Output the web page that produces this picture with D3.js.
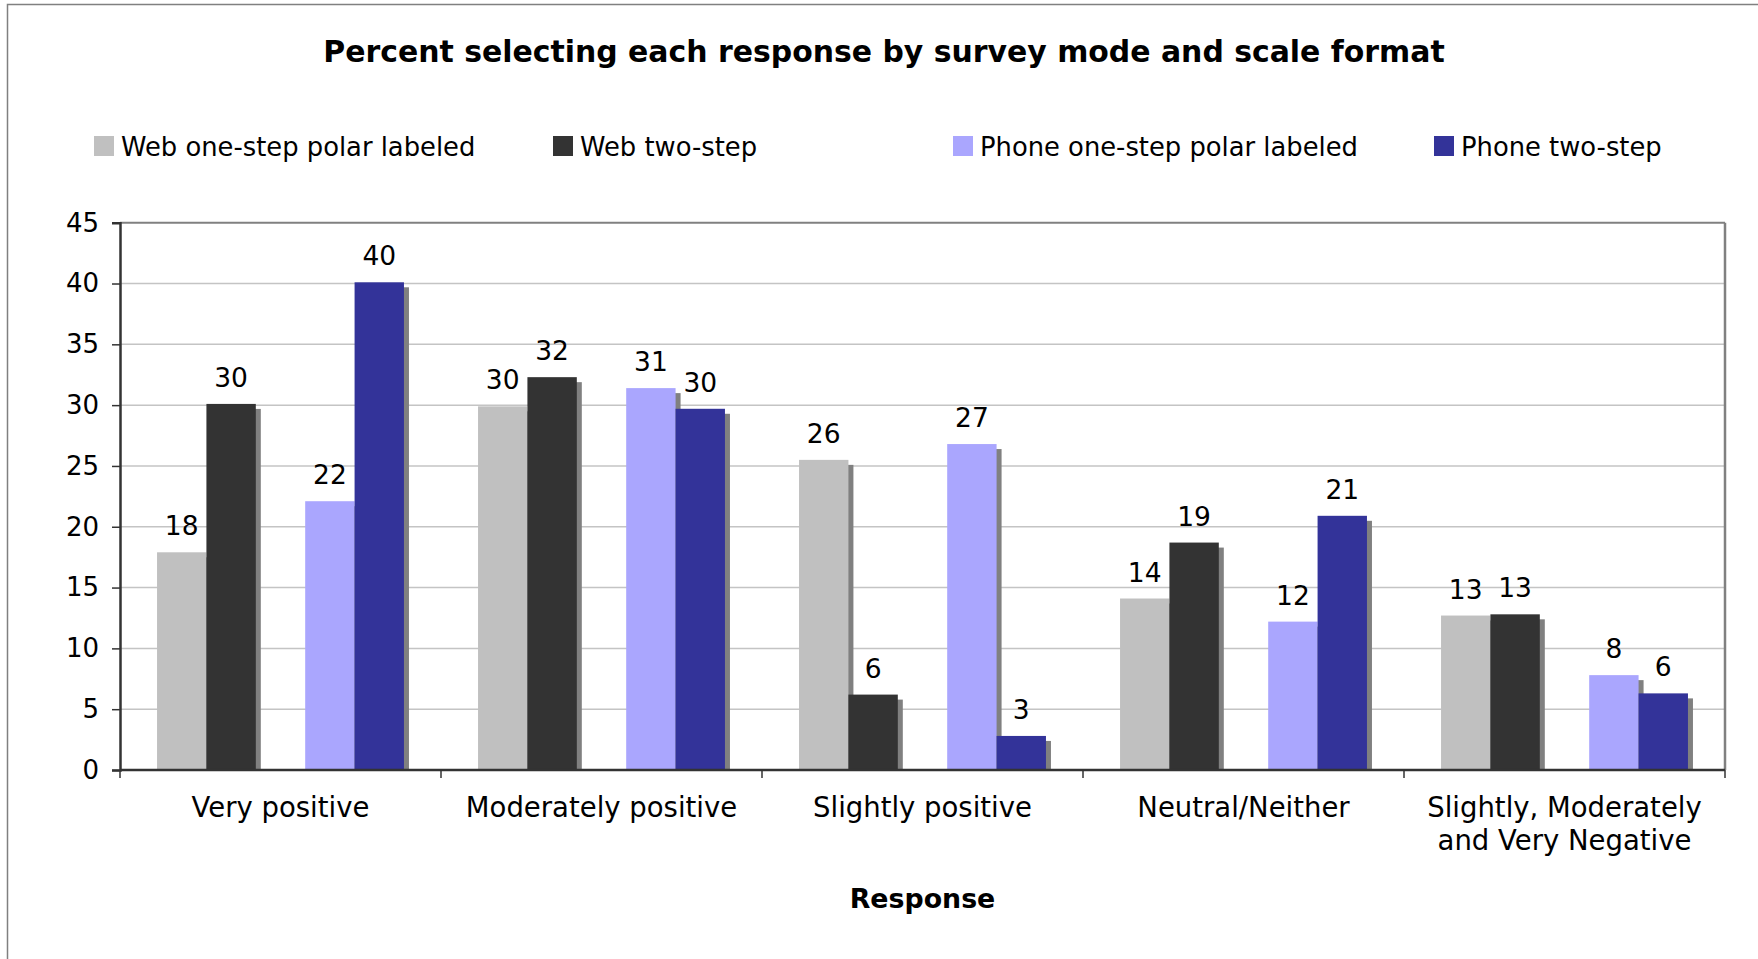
<!DOCTYPE html>
<html>
<head>
<meta charset="utf-8">
<script src="https://cdn.jsdelivr.net/npm/d3@7"></script>
<style>
  html, body { margin: 0; padding: 0; background: #fff; }
  svg { display: block; }
  text { font-family: "DejaVu Sans", Verdana, sans-serif; fill: #000; }
</style>
</head>
<body>
<svg id="chart" width="1758" height="959"></svg>
<script>
// ---- data ----
const categories = ["Very positive", "Moderately positive", "Slightly positive", "Neutral/Neither", "Slightly, Moderately\nand Very Negative"];
const seriesNames = ["Web one-step polar labeled", "Web two-step", "Phone one-step polar labeled", "Phone two-step"];
const webOneStep   = [17.9, 29.9, 25.5, 14.1, 12.7];
const webTwoStep   = [30.1, 32.3, 6.2, 18.7, 12.8];
const phoneOneStep = [22.1, 31.4, 26.8, 12.2, 7.8];
const phoneTwoStep = [40.1, 29.7, 2.8, 20.9, 6.3];
const yTicks = [0, 5, 10, 15, 20, 25, 30, 35, 40, 45];
const seriesColors = ["#c0c0c0", "#333333", "#aaa6fe", "#333399"];
const titleText = "Percent selecting each response by survey mode and scale format";
const xTitle = "Response";

// ---- layout ----
const svg = d3.select("#chart");
const plot = { left: 120, right: 1725, top: 222.7, bottom: 770 };

// outer border
svg.append("rect").attr("x", 7.5).attr("y", 4.5).attr("width", 1800).attr("height", 1000)
  .attr("fill", "none").attr("stroke", "#808080").attr("stroke-width", 1.5);

const y = d3.scaleLinear().domain([0, 45]).range([plot.bottom, plot.top]);
const x0 = d3.scaleBand().domain(categories).range([plot.left, plot.right])
  .paddingInner(1.5 / 6.5).paddingOuter(0.75 / 6.5);
// 5 slots, middle slot is empty (gap between web and phone pairs)
const slotKeys = ["s0", "s1", "gap", "s2", "s3"];
const x1 = d3.scaleBand().domain(slotKeys).range([0, x0.bandwidth()]);

const seriesValues = [webOneStep, webTwoStep, phoneOneStep, phoneTwoStep];
const seriesSlots = ["s0", "s1", "s2", "s3"];

// gridlines
svg.append("g").selectAll("line").data(yTicks.filter(t => t > 0 && t < 45)).join("line")
  .attr("x1", plot.left).attr("x2", plot.right)
  .attr("y1", d => y(d)).attr("y2", d => y(d))
  .attr("stroke", "#c4c4c4").attr("stroke-width", 1.5);

// top & right frame
svg.append("line").attr("x1", plot.left).attr("x2", plot.right).attr("y1", plot.top).attr("y2", plot.top)
  .attr("stroke", "#808080").attr("stroke-width", 2);
svg.append("line").attr("x1", plot.right).attr("x2", plot.right).attr("y1", plot.top).attr("y2", plot.bottom)
  .attr("stroke", "#808080").attr("stroke-width", 2.5);

// bars data
const bars = [];
categories.forEach((c, i) => {
  seriesValues.forEach((vals, s) => {
    bars.push({ cat: c, s: s, v: vals[i], slot: seriesSlots[s] });
  });
});

const gBars = svg.append("g");
// shadows
const shadowOff = 5;
gBars.selectAll("rect.shadow").data(bars).join("rect").attr("class", "shadow")
  .attr("x", d => x0(d.cat) + x1(d.slot) + shadowOff)
  .attr("y", d => y(d.v) + shadowOff)
  .attr("width", x1.bandwidth())
  .attr("height", d => Math.max(0, plot.bottom - y(d.v) - shadowOff))
  .attr("fill", "#808080");
// bars
gBars.selectAll("rect.bar").data(bars).join("rect").attr("class", "bar")
  .attr("x", d => x0(d.cat) + x1(d.slot))
  .attr("y", d => y(d.v))
  .attr("width", x1.bandwidth())
  .attr("height", d => plot.bottom - y(d.v))
  .attr("fill", d => seriesColors[d.s]);

// data labels
const fmt = d3.format(".0f");
gBars.selectAll("text.lbl").data(bars).join("text").attr("class", "lbl")
  .attr("x", d => x0(d.cat) + x1(d.slot) + x1.bandwidth() / 2)
  .attr("y", d => y(d.v) - 17)
  .attr("text-anchor", "middle")
  .style("font-size", "26.5px")
  .text(d => fmt(d.v));

// y axis
const yAxis = d3.axisLeft(y).tickValues(yTicks).tickSize(8).tickPadding(13).tickFormat(d3.format("d"));
const gy = svg.append("g").attr("transform", `translate(${plot.left},0)`).call(yAxis);
gy.select(".domain").attr("stroke", "#333").attr("stroke-width", 2.5);
gy.selectAll(".tick line").attr("stroke", "#333").attr("stroke-width", 1.5);
gy.selectAll(".tick text").style("font-size", "26px").attr("fill", "#000")
  .style("font-family", "'DejaVu Sans', Verdana, sans-serif");

// x axis baseline and category separators
svg.append("line").attr("x1", plot.left).attr("x2", plot.right).attr("y1", plot.bottom).attr("y2", plot.bottom)
  .attr("stroke", "#333").attr("stroke-width", 2.5);
const boundaries = categories.map(c => x0(c) - x0.step() * x0.paddingOuter()).concat([plot.right]);
svg.append("g").selectAll("line").data(boundaries).join("line")
  .attr("x1", d => d).attr("x2", d => d)
  .attr("y1", plot.bottom).attr("y2", plot.bottom + 8)
  .attr("stroke", "#333").attr("stroke-width", 1.5);

// category labels
const catG = svg.append("g");
categories.forEach(c => {
  const lines = c.split("\n");
  const t = catG.append("text")
    .attr("x", x0(c) + x0.bandwidth() / 2)
    .attr("y", 817)
    .attr("text-anchor", "middle")
    .style("font-size", "27.5px");
  lines.forEach((ln, i) => {
    t.append("tspan").attr("x", x0(c) + x0.bandwidth() / 2).attr("dy", i === 0 ? 0 : 32.5).text(ln);
  });
});

// axis title
svg.append("text").attr("x", (plot.left + plot.right) / 2).attr("y", 908)
  .attr("text-anchor", "middle").style("font-size", "26.8px").style("font-weight", "bold")
  .text(xTitle);

// title
svg.append("text").attr("x", 884).attr("y", 62)
  .attr("text-anchor", "middle").style("font-size", "29.9px").style("font-weight", "bold")
  .text(titleText);

// legend
const legendX = [94, 553, 953, 1434];
const lg = svg.append("g");
seriesNames.forEach((n, i) => {
  lg.append("rect").attr("x", legendX[i]).attr("y", 136).attr("width", 20).attr("height", 20)
    .attr("fill", seriesColors[i]);
  lg.append("text").attr("x", legendX[i] + 27).attr("y", 156)
    .style("font-size", "25.8px").text(n);
});
</script>
</body>
</html>
